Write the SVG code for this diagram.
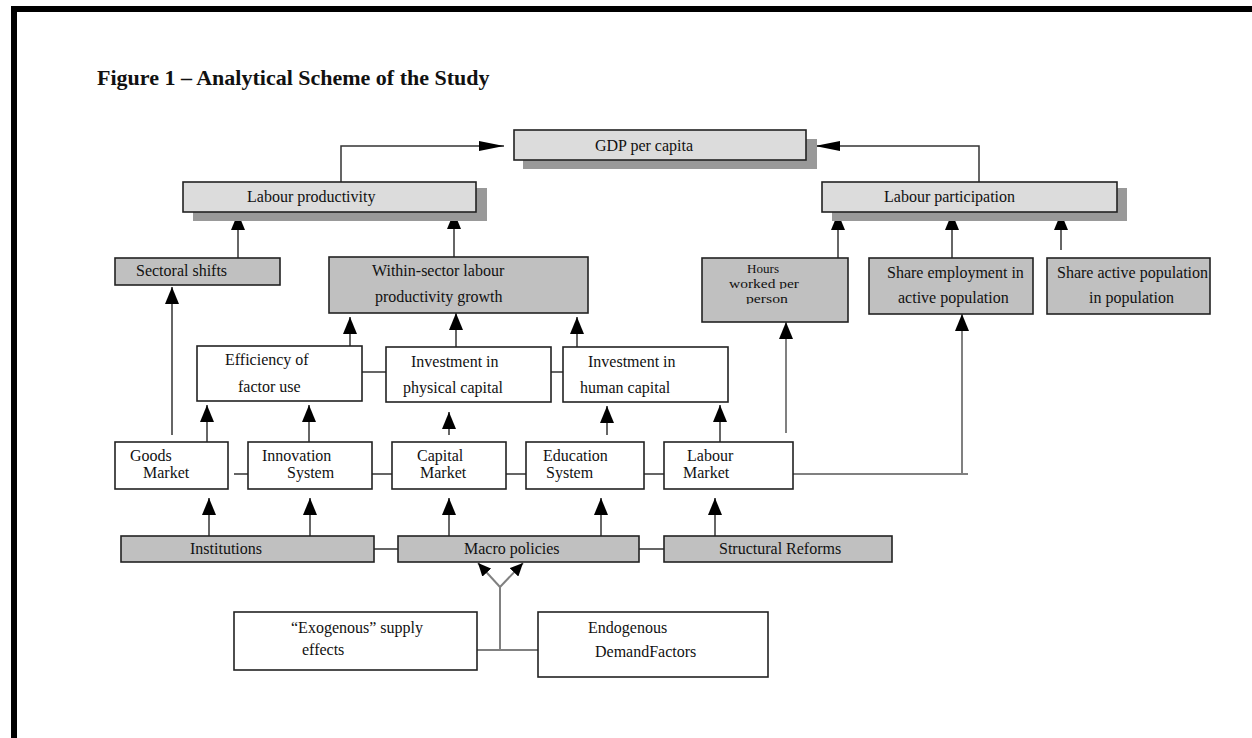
<svg xmlns="http://www.w3.org/2000/svg" width="1252" height="738" viewBox="0 0 1252 738">
<defs>
<style>
text{font-family:"Liberation Serif","Times New Roman",serif;font-size:16px;fill:#111}
.title{font-weight:bold;font-size:22px}
.hr{font-size:13px}
.lt{fill:#dcdcdc;stroke:#222;stroke-width:1.6}
.md{fill:#c0c0c0;stroke:#222;stroke-width:1.6}
.wh{fill:#fff;stroke:#222;stroke-width:1.6}
.sh{fill:#999}
.ln{fill:none;stroke:#333;stroke-width:1.5}
.gr{fill:none;stroke:#808080;stroke-width:2}
.ar{marker-end:url(#ah)}
.ag{marker-end:url(#ag)}
.ad{marker-end:url(#ad)}
</style>
<marker id="ah" markerUnits="userSpaceOnUse" markerWidth="18" markerHeight="14" viewBox="0 0 18 14" refX="17" refY="7" orient="auto"><path d="M0,0 L17,7 L0,14 Z" fill="#000"/></marker>
<marker id="ag" markerUnits="userSpaceOnUse" markerWidth="26" markerHeight="10" viewBox="0 0 26 10" refX="25" refY="5" orient="auto"><path d="M0,0 L25,5 L0,10 Z" fill="#000"/></marker>
<marker id="ad" markerUnits="userSpaceOnUse" markerWidth="14" markerHeight="12" viewBox="0 0 14 12" refX="13" refY="6" orient="auto"><path d="M0,0 L13,6 L0,12 Z" fill="#000"/></marker>
<clipPath id="c1"><rect x="700" y="258" width="150" height="16"/></clipPath>
<clipPath id="c2"><rect x="700" y="276" width="150" height="13"/></clipPath>
<clipPath id="c3"><rect x="700" y="291" width="150" height="13"/></clipPath>
</defs>
<rect width="1252" height="738" fill="#fff"/>
<rect x="11" y="6" width="1241" height="6" fill="#000"/>
<rect x="11" y="6" width="6" height="732" fill="#000"/>
<text class="title" x="97" y="85">Figure 1 – Analytical Scheme of the Study</text>

<g id="connectors">
<path class="ln ag" d="M341,183 V146 H504"/>
<path class="ln ag" d="M979,183 V146 H815"/>
<path class="ln ar" d="M238,258 V213"/>
<path class="ln ar" d="M454,257 V212"/>
<path class="ln ar" d="M838,258 V213"/>
<path class="ln ar" d="M952,258 V213"/>
<path class="ln ar" d="M1061,250 V213"/>
<path class="ln ar" d="M350,346 V317"/>
<path class="ln ar" d="M456,347 V313"/>
<path class="ln ar" d="M577,347 V317"/>
<path class="ln" d="M360,372 H386 M551,372 H563"/>
<path class="ln ar" d="M172,435 V287"/>
<path class="ln ar" d="M207,443 V405"/>
<path class="ln ar" d="M309,442 V405"/>
<path class="ln ar" d="M449,435 V412"/>
<path class="ln ar" d="M607,435 V406"/>
<path class="ln ar" d="M720,442 V405"/>
<path class="gr ar" d="M786,433 V322"/>
<path class="gr" d="M791,474 H968"/>
<path class="gr ar" d="M962,474 V314"/>
<path class="ln" d="M234,474 H248 M372,474 H392 M499,474 H526 M639,474 H664"/>
<path class="ln ar" d="M209,536 V498"/>
<path class="ln ar" d="M310,536 V498"/>
<path class="ln ar" d="M449,536 V498"/>
<path class="ln ar" d="M601,536 V498"/>
<path class="ln ar" d="M715,536 V498"/>
<path class="ln" d="M373,549 H398 M639,549 H664"/>
<path class="gr" d="M474,650 H538 M500,650 V587"/>
<path class="gr ad" d="M500,587 L478,563"/>
<path class="gr ad" d="M500,587 L523,563"/>
</g>

<g id="gdp"><rect class="sh" x="523" y="139" width="294" height="30"/><rect class="lt" x="514" y="130" width="292" height="30"/><text x="595" y="151">GDP per capita</text></g>
<g id="labour-productivity"><rect class="sh" x="193" y="188" width="294" height="33"/><rect class="lt" x="183" y="182" width="293" height="30"/><text x="247" y="202">Labour productivity</text></g>
<g id="labour-participation"><rect class="sh" x="832" y="188" width="295" height="33"/><rect class="lt" x="822" y="182" width="295" height="30"/><text x="884" y="202">Labour participation</text></g>
<g id="sectoral-shifts"><rect class="md" x="115" y="258" width="165" height="27"/><text x="136" y="276">Sectoral shifts</text></g>
<g id="within-sector"><rect class="md" x="329" y="257" width="259" height="56"/><text x="372" y="276">Within-sector labour</text><text x="375" y="302">productivity growth</text></g>
<g id="hours"><rect class="md" x="702" y="258" width="146" height="64"/><text class="hr" x="763" y="273" text-anchor="middle" textLength="32" lengthAdjust="spacingAndGlyphs" clip-path="url(#c1)">Hours</text><text class="hr" x="764" y="288" text-anchor="middle" textLength="70" lengthAdjust="spacingAndGlyphs" clip-path="url(#c2)">worked per</text><text class="hr" x="767" y="303" text-anchor="middle" textLength="42" lengthAdjust="spacingAndGlyphs" clip-path="url(#c3)">person</text></g>
<g id="share-employment"><rect class="md" x="869" y="258" width="164" height="56"/><text x="887" y="278">Share employment in</text><text x="898" y="303">active population</text></g>
<g id="share-active"><rect class="md" x="1047" y="258" width="163" height="56"/><text x="1057" y="278">Share active population</text><text x="1089" y="303">in population</text></g>
<g id="efficiency"><rect class="wh" x="197" y="346" width="165" height="55"/><text x="225" y="365">Efficiency of</text><text x="238" y="392">factor use</text></g>
<g id="physical-capital"><rect class="wh" x="386" y="347" width="165" height="55"/><text x="411" y="367">Investment in</text><text x="403" y="393">physical capital</text></g>
<g id="human-capital"><rect class="wh" x="563" y="347" width="165" height="55"/><text x="588" y="367">Investment in</text><text x="580" y="393">human capital</text></g>
<g id="goods-market"><rect class="wh" x="115" y="442" width="113" height="47"/><text x="130" y="461">Goods</text><text x="143" y="478">Market</text></g>
<g id="innovation-system"><rect class="wh" x="248" y="442" width="124" height="47"/><text x="262" y="461">Innovation</text><text x="287" y="478">System</text></g>
<g id="capital-market"><rect class="wh" x="392" y="442" width="114" height="47"/><text x="417" y="461">Capital</text><text x="420" y="478">Market</text></g>
<g id="education-system"><rect class="wh" x="526" y="442" width="118" height="47"/><text x="543" y="461">Education</text><text x="546" y="478">System</text></g>
<g id="labour-market"><rect class="wh" x="664" y="442" width="129" height="47"/><text x="687" y="461">Labour</text><text x="683" y="478">Market</text></g>
<g id="institutions"><rect class="md" x="121" y="536" width="253" height="26"/><text x="190" y="554">Institutions</text></g>
<g id="macro-policies"><rect class="md" x="398" y="536" width="241" height="26"/><text x="464" y="554">Macro policies</text></g>
<g id="structural-reforms"><rect class="md" x="664" y="536" width="228" height="26"/><text x="719" y="554">Structural Reforms</text></g>
<g id="exogenous"><rect class="wh" x="234" y="612" width="243" height="58"/><text x="291" y="633">“Exogenous” supply</text><text x="302" y="655">effects</text></g>
<g id="endogenous"><rect class="wh" x="538" y="612" width="230" height="65"/><text x="588" y="633">Endogenous</text><text x="595" y="657">DemandFactors</text></g>
</svg>
